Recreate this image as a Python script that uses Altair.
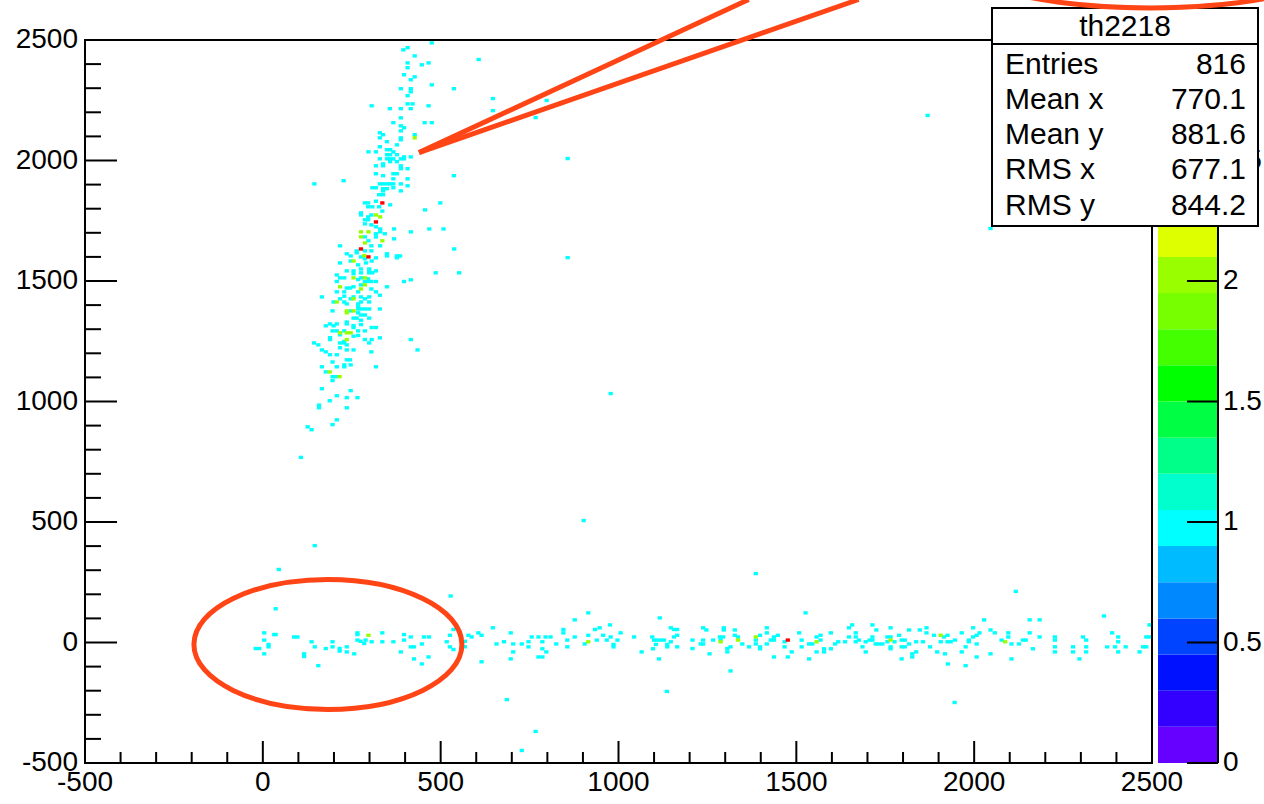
import altair as alt
import pandas as pd

FONT = "Liberation Sans"
RED = "#ff4416"

# ---------------- data (bin centres, data units) ----------------
# cells with content 1 : upper (vertical) band
band_cells_1 = [
    (475,2488),(395,2459),(407,2468),(427,2434),(407,2405),(407,2385),(447,2397),(466,2405),(397,2356),(427,2347),
    (416,2335),(475,2314),(388,2298),(416,2298),(416,2285),(537,2298),(407,2269),(306,2227),(407,2235),(421,2235),
    (466,2227),(357,2215),(388,2215),(416,2215),(388,2177),(367,2157),(388,2144),(397,2136),(388,2123),(455,2157),
    (475,2157),(329,2115),(338,2107),(427,2107),(329,2094),(388,2094),(388,2086),(349,2078),(377,2065),(329,2057),
    (349,2045),(358,2045),(297,2036),(318,2036),(367,2036),(349,2024),(358,2024),(377,2024),(329,2007),(349,2007),
    (358,2007),(367,2007),(388,2007),(397,2015),(397,2007),(416,2015),(358,1995),(377,1995),(338,1986),(338,1978),
    (318,1978),(388,1978),(388,1966),(407,1966),(318,1945),(338,1937),(367,1945),(377,1945),(367,1924),(407,1924),
    (145,1903),(227,1916),(329,1903),(338,1903),(349,1903),(358,1903),(367,1903),(388,1903),(407,1895),(308,1887),
    (318,1887),(338,1883),(349,1883),(338,1874),(367,1887),(388,1874),(327,1858),(338,1858),(537,1937),
    (287,1824),(296,1824),(318,1831),(358,1816),(296,1808),(308,1808),(327,1808),(336,1790),(276,1783),(276,1774),
    (305,1774),(296,1766),(287,1754),(296,1754),(287,1737),(305,1733),(318,1725),(330,1716),(369,1716),(330,1704),
    (318,1696),(343,1696),(287,1683),(318,1683),(369,1675),(297,1667),(305,1646),(330,1646),(264,1625),(287,1625),
    (305,1625),(217,1646),(236,1613),(247,1604),(264,1617),(276,1600),(287,1592),(318,1596),(349,1613),(349,1604),
    (377,1604),(386,1604),(377,1596),(416,1704),(468,1716),(508,1716),(456,1795),(499,1824),(538,1633),(217,1575),
    (247,1583),(268,1567),(290,1575),(306,1583),(276,1550),(236,1542),(255,1542),(299,1550),(299,1542),(318,1542),
    (255,1530),(276,1534),(299,1534),(308,1534),(208,1525),(217,1513),(229,1513),(268,1506),(276,1513),(296,1509),
    (287,1498),(296,1498),(305,1498),(318,1498),(208,1498),(486,1534),(552,1534),(416,1505),(397,1498),(349,1476),
    (236,1471),(245,1471),(255,1476),(276,1484),(268,1455),(305,1467),(318,1455),(208,1455),(229,1455),(229,1437),
    (329,1441),(166,1434),(217,1426),(255,1434),(276,1434),(287,1426),(299,1434),(199,1413),(229,1413),(236,1405),
    (247,1426),(268,1405),(276,1413),(299,1413),(268,1393),(268,1384),(276,1384),(287,1384),(299,1384),(329,1384),
    (196,1376),(247,1376),(268,1368),(276,1359),(287,1359),(299,1346),(255,1346),(264,1346),(276,1337),(236,1330),
    (236,1322),(255,1315),(255,1307),(276,1319),(189,1322),(177,1314),(199,1314),(208,1322),(306,1307),(318,1307),
    (196,1293),(208,1293),(229,1293),(268,1293),(287,1293),(217,1277),(255,1271),(268,1274),(287,1257),(299,1243),
    (306,1257),(329,1264),(189,1265),(189,1257),(229,1249),(217,1243),(227,1243),(236,1235),(144,1243),(156,1235),
    (217,1223),(166,1214),(177,1206),(236,1214),(255,1214),(305,1206),(416,1257),(435,1214),(189,1194),(208,1194),
    (196,1164),(236,1173),(245,1173),(247,1152),(166,1144),(208,1144),(229,1152),(229,1144),(318,1144),
    (177,1123),(196,1103),(205,1103),(196,1087),(166,1053),(247,1045),(208,1024),(188,1003),(236,1016),(266,1016),
    (158,985),(158,974),(236,974),(208,924),(196,904),(126,895),(137,883),(107,768),
]

# cells with content 1 : isolated entries
stray_cells_1 = [
    (607,2419),(647,2257),(647,2207),(798,2249),(767,2178),(857,2008),(1869,2187),(857,1597),(978,1033),
    (902,506),(1386,286),(2117,212),(45,303),(146,402),(686,-237),(767,-369),(728,-448),(1136,-203),
    (1945,-249),(2046,1718),
]

# cells with content 1 : horizontal band near y = 0
row_cells_1 = [
    (36,140),(4,40),(32,33),(36,33),(88,23),(97,23),(4,10),(16,-8),(16,-18),(-20,-25),(-10,-25),(4,-47),
    (116,-47),(116,-58),(137,3),(146,-18),(177,-25),(196,3),(196,-18),(216,-25),(216,-36),(236,-18),(236,-39),
    (257,-47),(156,-96),(266,40),(266,33),(266,10),(275,5),(285,-4),(289,10),(306,3),(336,40),(336,3),(367,3),
    (388,-39),(397,33),(397,10),(416,23),(425,-18),(416,-18),(425,-68),(447,-6),(447,-89),(453,23),(467,23),
    (466,-60),(517,3),(526,30),(526,-18),(536,54),(536,-29),(528,193),(568,5),(568,-18),(578,30),(587,23),
    (606,40),(615,30),(615,-80),(647,61),(657,-6),(678,3),(697,40),(697,-68),(704,-6),(704,-39),(728,-6),
    (747,3),(747,-18),(756,23),(775,23),(775,-60),(786,-60),(786,3),(786,-26),(797,-39),(795,23),(809,23),
    (825,-6),(845,54),(845,40),(856,10),(856,-18),(877,94),(877,23),(905,-6),(915,123),(915,30),(934,54),
    (947,61),(939,10),(957,30),(967,10),(976,73),(978,23),(986,-8),(986,-18),(997,10),(1006,40),(1044,23),
    (1065,-39),(1095,23),(1100,10),(1109,10),(1119,10),(1128,10),(1105,-8),(1097,-26),(1114,-68),(1116,102),
    (1137,-8),(1137,-18),(1147,61),(1156,54),(1165,54),(1156,23),(1165,30),(1147,3),(1165,-18),
    (1208,10),(1208,-25),(1231,-6),(1238,-6),(1238,10),(1238,61),(1247,52),(1256,-47),(1266,10),(1285,23),
    (1294,23),(1287,10),(1296,61),(1296,52),(1306,-25),(1306,-39),(1315,-18),(1315,-118),(1327,52),(1327,30),
    (1336,23),(1348,-6),(1367,-18),(1386,10),(1386,-6),(1398,30),(1398,-18),(1398,-26),(1417,61),(1417,40),
    (1417,-6),(1428,10),(1437,23),(1437,10),(1437,-60),(1448,30),(1467,3),(1467,-18),(1476,-60),(1487,-39),
    (1508,40),(1515,10),(1515,-18),(1526,123),(1536,-6),(1545,-6),(1536,-68),(1557,23),(1557,-39),(1568,30),
    (1568,10),(1578,-26),(1578,-39),(1597,40),(1597,-26),(1609,-6),(1618,3),(1637,3),(1648,61),(1648,23),
    (1657,73),(1667,40),(1667,23),(1667,3),(1676,10),(1686,-18),(1695,3),(1695,-39),(1706,10),(1714,73),
    (1714,23),(1714,10),(1725,52),(1723,-6),(1732,-6),(1742,-6),(1756,23),(1756,3),(1765,61),(1765,23),
    (1765,-18),(1765,-26),(1776,3),(1789,30),(1796,10),(1796,-18),(1796,-68),(1805,10),(1805,-18),(1817,52),
    (1817,-6),(1826,-47),(1826,-60),(1837,3),(1837,-39),(1847,52),(1856,3),(1866,61),(1866,40),(1876,-18),
    (1887,30),(1896,-39),(1906,3),(1915,23),(1918,-47),(1925,30),(1925,3),(1934,3),(1926,-89),(1946,10),
    (1965,40),(1965,-39),(1976,-18),(1976,-96),(1985,10),(1985,3),(1997,61),(1997,23),(2007,30),(2007,-6),
    (2007,-60),(2015,40),(2028,94),(2046,52),(2046,-47),(2058,40),(2077,10),(2096,40),(2096,23),(2105,-6),
    (2105,-68),(2126,-6),(2137,10),(2145,10),(2156,94),(2156,40),(2165,-26),(2184,94),(2184,23),(2227,23),
    (2227,10),(2227,-18),(2227,-39),(2278,-18),(2278,-39),(2296,-68),(2306,23),(2315,10),(2315,-18),(2315,-39),
    (2365,110),(2374,-18),(2388,40),(2396,-18),(2405,23),(2405,3),(2405,-39),(2426,-18),(2465,-39),(2475,-18),
    (2484,23),(2493,23),(2484,-18),(2493,73),(2499,73),
]

# cells with content 2
cells_2 = [
    (427,2094),(318,1774),(330,1766),(276,1704),(297,1704),(276,1683),(336,1667),(287,1658),(285,1605),
    (255,1583),(255,1513),(287,1513),(217,1476),(287,1484),(276,1467),(208,1413),(255,1426),(236,1376),
    (236,1368),(255,1376),(217,1285),(236,1285),(247,1285),(236,1257),(188,1123),(216,1103),
    (297,30),(915,3),(1287,3),(1336,10),(1386,23),(1557,3),(1765,10),(1906,30),(2087,3),
]

# cells with content 3
cells_3 = [(336,1824),(318,1745),(276,1633),(297,1600),(1476,10)]

# axis ticks
major_ticks = [-500, 0, 500, 1000, 1500, 2000, 2500]
major_labels = ["-500", "0", "500", "1000", "1500", "2000", "2500"]
minor_ticks = [-400, -300, -200, -100, 100, 200, 300, 400, 600, 700, 800, 900,
               1100, 1200, 1300, 1400, 1600, 1700, 1800, 1900, 2100, 2200, 2300, 2400]

# palette (20 contour levels from 0 to 3)
palette_levels = [0.0, 0.15, 0.3, 0.45, 0.6, 0.75, 0.9, 1.05, 1.2, 1.35,
                  1.5, 1.65, 1.8, 1.95, 2.1, 2.25, 2.4, 2.55, 2.7, 2.85]
palette_colors = ["#6600ff", "#3300ff", "#0011ff", "#0044ff", "#0088ff", "#00bbff", "#00ffff",
                  "#00ffcc", "#00ff88", "#00ff44", "#00ff00", "#44ff00", "#77ff00", "#99ff00",
                  "#ddff00", "#ffee00", "#ffbb00", "#ff8800", "#ff4400", "#ff0000"]
z_max = 3.0
z_ticks = [0, 0.5, 1, 1.5, 2, 2.5]
z_tick_labels = ["0", "0.5", "1", "1.5", "2", "2.5"]

# statistics box
stats_title = "th2218"
stats_names = ["Entries", "Mean x", "Mean y", "RMS x", "RMS y"]
stats_values = ["816", "770.1", "881.6", "677.1", "844.2"]

# hand-drawn annotations (data units)
arrow_lines = [
    {"x1": 439, "y1": 2033, "x2": 1366, "y2": 2668},
    {"x1": 439, "y1": 2033, "x2": 1675, "y2": 2668},
]
ellipses = [
    {"x": 183, "y": -8, "rx": 134, "ry": 65},
    {"x": 2496, "y": 2903, "rx": 220, "ry": 65},
]

# ---------------- build tables ----------------
rows = []
for (x, y) in band_cells_1 + stray_cells_1 + row_cells_1:
    rows.append({"x": x, "y": y, "n": 1})
for (x, y) in cells_2:
    rows.append({"x": x, "y": y, "n": 2})
for (x, y) in cells_3:
    rows.append({"x": x, "y": y, "n": 3})
cells_df = pd.DataFrame(rows)

W, H = 1067, 723
XMIN, XMAX, YMIN, YMAX = -500, 2500, -500, 2500
xs = alt.Scale(domain=[XMIN, XMAX], nice=False, zero=False)
ys = alt.Scale(domain=[YMIN, YMAX], nice=False, zero=False)
cscale = alt.Scale(type="threshold", domain=palette_levels[1:], range=palette_colors)

one = pd.DataFrame({"a": [0]})

hist = alt.Chart(cells_df).mark_rect(clip=True).transform_calculate(
    x0="datum.x - 6", x1="datum.x + 6", y0="datum.y - 7", y1="datum.y + 7"
).encode(
    x=alt.X("x0:Q", scale=xs, axis=None),
    x2="x1:Q",
    y=alt.Y("y0:Q", scale=ys, axis=None),
    y2="y1:Q",
    color=alt.Color("n:Q", scale=cscale, legend=None),
)

frame = alt.Chart(one).mark_rect(fill="transparent", stroke="black", strokeWidth=2).encode(
    x=alt.value(0), x2=alt.value(W), y=alt.value(0), y2=alt.value(H))

maj_df = pd.DataFrame({"v": major_ticks, "lab": major_labels})
min_df = pd.DataFrame({"v": minor_ticks})

y_major = alt.Chart(maj_df).mark_rule(color="black", strokeWidth=2).encode(
    y=alt.Y("v:Q", scale=ys, axis=None), x=alt.value(0), x2=alt.value(32))
y_minor = alt.Chart(min_df).mark_rule(color="black", strokeWidth=2).encode(
    y=alt.Y("v:Q", scale=ys, axis=None), x=alt.value(0), x2=alt.value(16))
x_major = alt.Chart(maj_df).mark_rule(color="black", strokeWidth=2).encode(
    x=alt.X("v:Q", scale=xs, axis=None), y=alt.value(H), y2=alt.value(H - 22))
x_minor = alt.Chart(min_df).mark_rule(color="black", strokeWidth=2).encode(
    x=alt.X("v:Q", scale=xs, axis=None), y=alt.value(H), y2=alt.value(H - 11))

x_labels = alt.Chart(maj_df).mark_text(
    font=FONT, fontSize=28, color="black", align="center", baseline="top"
).encode(x=alt.X("v:Q", scale=xs, axis=None), y=alt.value(H + 6), text="lab:N")
y_labels = alt.Chart(maj_df).mark_text(
    font=FONT, fontSize=28, color="black", align="right", baseline="middle"
).encode(y=alt.Y("v:Q", scale=ys, axis=None), x=alt.value(-7), text="lab:N")

# annotations
lines = alt.Chart(pd.DataFrame(arrow_lines)).mark_rule(color=RED, strokeWidth=5).encode(
    x=alt.X("x1:Q", scale=xs, axis=None), y=alt.Y("y1:Q", scale=ys, axis=None),
    x2="x2:Q", y2="y2:Q")


def ellipse_layer(e):
    r = e["ry"] / e["rx"]
    k = 0.5523
    path = (f"M 1 0 C 1 {k*r:.4f} {k:.4f} {r:.4f} 0 {r:.4f} "
            f"C {-k:.4f} {r:.4f} -1 {k*r:.4f} -1 0 "
            f"C -1 {-k*r:.4f} {-k:.4f} {-r:.4f} 0 {-r:.4f} "
            f"C {k:.4f} {-r:.4f} 1 {-k*r:.4f} 1 0 Z")
    return alt.Chart(pd.DataFrame([e])).mark_point(
        shape=path, filled=False, stroke=RED, strokeWidth=5, opacity=1,
        size=(2 * e["rx"]) ** 2
    ).encode(x=alt.X("x:Q", scale=xs, axis=None), y=alt.Y("y:Q", scale=ys, axis=None))


ell1 = ellipse_layer(ellipses[0])
ell2 = ellipse_layer(ellipses[1])

# colour bar (palette axis drawn in y data units: z 0..3 spans -500..2500)
CB_X0, CB_X1 = 1073, 1133
cb_df = pd.DataFrame({"lo": palette_levels})
colorbar = alt.Chart(cb_df).transform_calculate(
    mid=f"datum.lo + {z_max/len(palette_levels)/2}",
    cy0=f"{YMIN} + datum.lo * {(YMAX-YMIN)/z_max}",
    cy1=f"{YMIN} + (datum.lo + {z_max/len(palette_levels)}) * {(YMAX-YMIN)/z_max}",
).mark_rect().encode(
    x=alt.value(CB_X0), x2=alt.value(CB_X1),
    y=alt.Y("cy0:Q", scale=ys, axis=None), y2="cy1:Q",
    color=alt.Color("mid:Q", scale=cscale, legend=None),
)
cb_line = alt.Chart(one).mark_rule(color="black", strokeWidth=2).encode(
    x=alt.value(CB_X1), y=alt.value(0), y2=alt.value(H))
zt_df = pd.DataFrame({"z": z_ticks, "lab": z_tick_labels})
cb_ticks = alt.Chart(zt_df).transform_calculate(
    cy=f"{YMIN} + datum.z * {(YMAX-YMIN)/z_max}"
).mark_rule(color="black", strokeWidth=2).encode(
    y=alt.Y("cy:Q", scale=ys, axis=None), x=alt.value(CB_X1 - 31), x2=alt.value(CB_X1))
cb_labels = alt.Chart(zt_df).transform_calculate(
    cy=f"{YMIN} + datum.z * {(YMAX-YMIN)/z_max}"
).mark_text(align="left", baseline="middle", font=FONT, fontSize=28, color="black").encode(
    y=alt.Y("cy:Q", scale=ys, axis=None), x=alt.value(CB_X1 + 5), text="lab:N")

# stats box
BX0, BX1, BY0, BY1 = 907, 1173, -32, 186
stats_box = alt.Chart(one).mark_rect(fill="white", stroke="black", strokeWidth=2).encode(
    x=alt.value(BX0), x2=alt.value(BX1), y=alt.value(BY0), y2=alt.value(BY1))
stats_sep = alt.Chart(one).mark_rule(color="black", strokeWidth=2).encode(
    x=alt.value(BX0), x2=alt.value(BX1), y=alt.value(4))
stats_t = alt.Chart(one).mark_text(text=stats_title, font=FONT, fontSize=30, align="center",
                                   baseline="middle", color="black").encode(
    x=alt.value((BX0 + BX1) / 2), y=alt.value(-13))
stats_n = alt.Chart(one).mark_text(text=stats_names, font=FONT, fontSize=30, align="left",
                                   baseline="middle", lineHeight=35.25, color="black").encode(
    x=alt.value(BX0 + 13), y=alt.value(24.5))
stats_v = alt.Chart(one).mark_text(text=stats_values, font=FONT, fontSize=30, align="right",
                                   baseline="middle", lineHeight=35.25, color="black").encode(
    x=alt.value(BX1 - 12), y=alt.value(24.5))

chart = alt.layer(
    hist, frame, y_major, y_minor, x_major, x_minor, x_labels, y_labels,
    colorbar, cb_line, cb_ticks, cb_labels,
    ell1, lines,
    stats_box, stats_sep, stats_t, stats_n, stats_v, ell2,
).properties(
    width=W, height=H,
    padding={"left": 85, "top": 40, "right": 112, "bottom": 41},
    autosize=alt.AutoSizeParams(type="none"),
    background="white",
).configure_view(stroke="transparent")

chart.save("out.html", embed_options={"renderer": "svg", "actions": False})
